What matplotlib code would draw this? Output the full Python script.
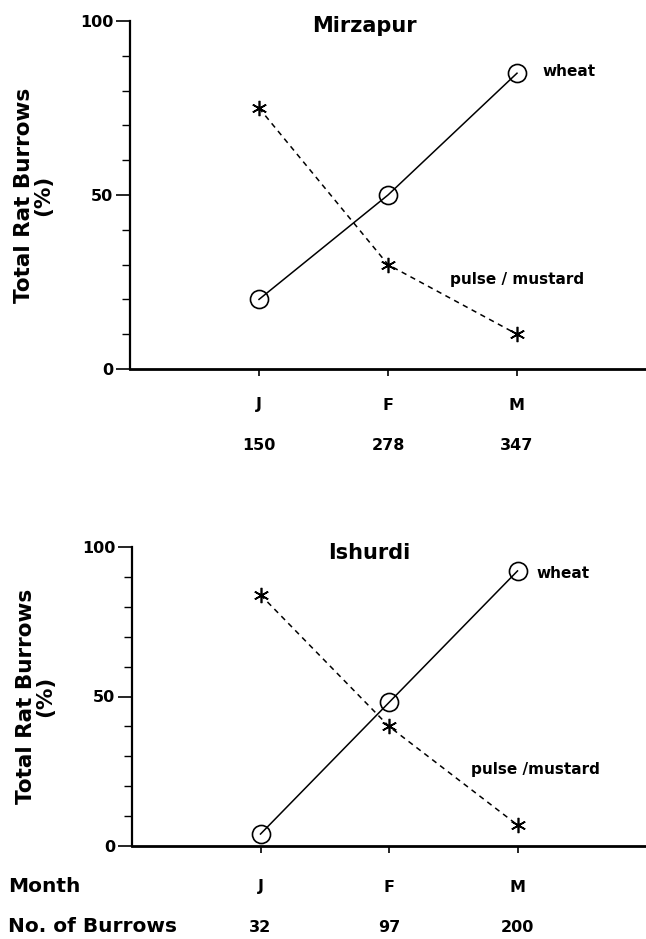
import matplotlib
matplotlib.use("Agg")
import matplotlib.pyplot as plt
from matplotlib.ticker import MultipleLocator, FixedLocator
import matplotlib.transforms as mtransforms

plt.rcParams['font.family'] = ['DejaVu Sans']

months = ["J", "F", "M"]
x_pos = [1, 2, 3]

mirzapur_wheat = [20, 50, 85]
mirzapur_pulse = [75, 30, 10]
mirzapur_burrows = ["150", "278", "347"]

ishurdi_wheat = [4, 48, 92]
ishurdi_pulse = [84, 40, 7]
ishurdi_burrows = ["32", "97", "200"]

W, H = 646, 939
fig = plt.figure(figsize=(W / 100, H / 100), dpi=100)
ax1 = fig.add_axes([130 / W, 1 - 369 / H, 516 / W, 348 / H])
ax2 = fig.add_axes([132 / W, 1 - 846 / H, 514 / W, 299 / H])

asterisk = (6, 2, 0)


def px2pt(px):
    return px * 0.72


def style(ax, title, title_xy, wheat, pulse, wheat_lbl_xy, pulse_lbl_xy, pulse_text,
          counts, month_dy, count_dy):
    ax.plot(x_pos, wheat, color='black', lw=1.1, marker='o', ms=13,
            mfc='none', mec='black', mew=1.2, zorder=3)
    ax.plot(x_pos, pulse, color='black', lw=1.1, ls=(0, (3.5, 3)),
            marker=asterisk, ms=11, mec='black', mew=1.2, zorder=3)
    ax.set_xlim(0, 4)
    ax.set_ylim(0, 100)
    for s in ['top', 'right']:
        ax.spines[s].set_visible(False)
    ax.spines['left'].set_linewidth(1.6)
    ax.spines['bottom'].set_linewidth(2.0)
    ax.yaxis.set_major_locator(FixedLocator([0, 50, 100]))
    ax.yaxis.set_minor_locator(MultipleLocator(10))
    ax.tick_params(axis='y', which='major', direction='out', length=10, width=1.2,
                   labelsize=11.5, pad=2)
    ax.tick_params(axis='y', which='minor', direction='out', length=6, width=1.0)
    for lbl in ax.get_yticklabels():
        lbl.set_fontweight('bold')
    ax.set_xticks(x_pos)
    ax.set_xticklabels([])
    ax.tick_params(axis='x', direction='out', length=5, width=1.2)
    ax.set_ylabel("Total Rat Burrows\n(%)", fontsize=15.5, fontweight='bold',
                  linespacing=1.0, labelpad=19)
    ax.text(title_xy[0], title_xy[1], title, ha='center', va='center',
            fontsize=15, fontweight='bold')
    ax.text(wheat_lbl_xy[0], wheat_lbl_xy[1], "wheat", ha='left', va='center',
            fontsize=11, fontweight='bold')
    ax.text(pulse_lbl_xy[0], pulse_lbl_xy[1], pulse_text, ha='left', va='center',
            fontsize=11, fontweight='bold')
    t_month = mtransforms.offset_copy(ax.get_xaxis_transform(), fig=fig, x=0,
                                      y=-px2pt(month_dy), units='points')
    t_count = mtransforms.offset_copy(ax.get_xaxis_transform(), fig=fig, x=0,
                                      y=-px2pt(count_dy), units='points')
    for xp, m, c in zip(x_pos, months, counts):
        ax.text(xp, 0, m, transform=t_month, ha='center', va='center',
                fontsize=11.5, fontweight='bold')
        ax.text(xp, 0, c, transform=t_count, ha='center', va='center',
                fontsize=11.5, fontweight='bold')


style(ax1, "Mirzapur", (1.82, 98.5), mirzapur_wheat, mirzapur_pulse,
      (3.2, 85.6), (2.48, 25.6), "pulse / mustard", mirzapur_burrows, 36, 76)
style(ax2, "Ishurdi", (1.85, 98), ishurdi_wheat, ishurdi_pulse,
      (3.15, 91.3), (2.64, 25.7), "pulse /mustard", ishurdi_burrows, 41, 81)

fig.text(8 / W, 1 - 887 / H, "Month", ha='left', va='center', fontsize=14.5,
         fontweight='bold')
fig.text(8 / W, 1 - 927 / H, "No. of Burrows", ha='left', va='center', fontsize=14.5,
         fontweight='bold')

fig.savefig("out.png", dpi=100)
